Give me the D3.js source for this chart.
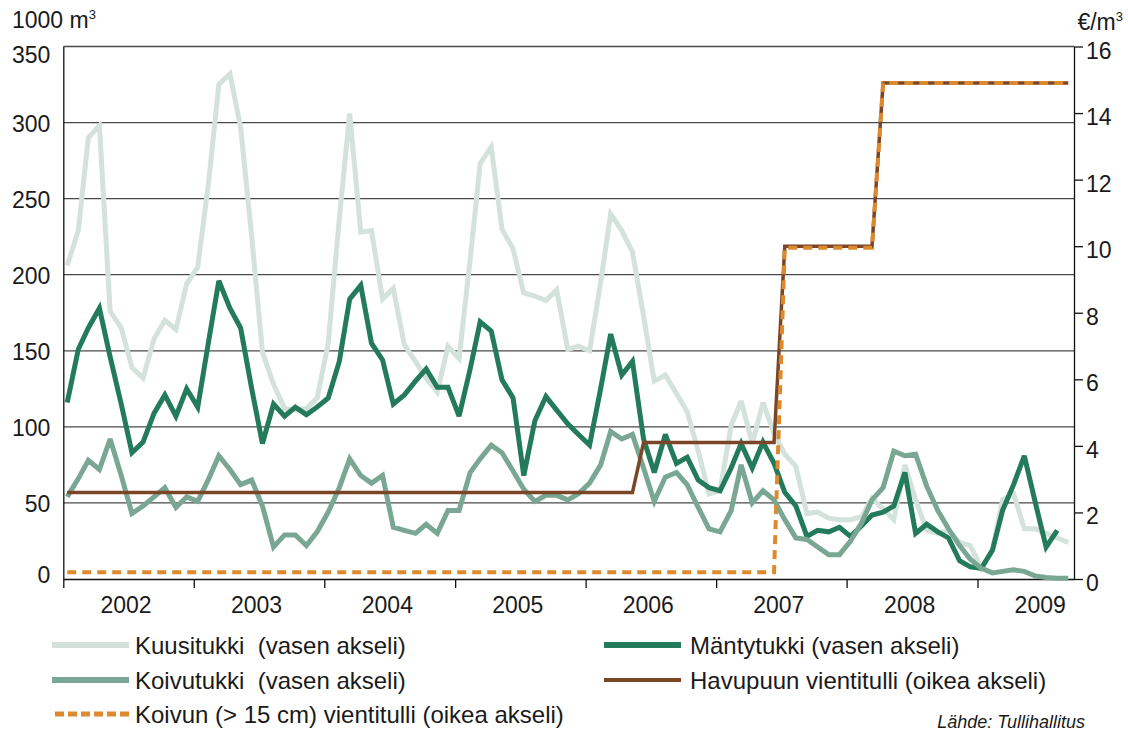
<!DOCTYPE html>
<html>
<head>
<meta charset="utf-8">
<script src="https://cdn.jsdelivr.net/npm/d3@7"></script>
<style>
  body { margin: 0; background: #fff; }
  svg { font-family: "Liberation Sans", Arial, sans-serif; }
</style>
</head>
<body>
<svg id="chart" width="1128" height="731"></svg>
<script>

// monthly series, Jan 2002 ->
let kuusitukki = [206,229,290,298,176,165,139,132,158,170,
    164,194,205,262,325,332,297,225,149,128,
    112,111,112,119,155,237,306,228,229,184,
    191,154,143,132,123,153,145,210,273,284,
    230,217,188,186,183,190,151,153,150,195,
    240,229,215,173,130,134,122,110,84,56,
    58,101,117,89,116,96,82,74,43,44,
    40,39,39,41,53,46,39,75,52,32,
    30,32,24,22,7,19,52,56,33,33,
    30,27,24]

let mantytukki = [116,151,165,178,146,115,83,90,109,121,
    107,125,113,157,196,178,165,125,89,115,
    107,113,108,113,119,143,184,193,155,144,
    115,121,130,138,126,126,107,138,169,163,
    131,119,68,104,120,111,102,95,88,125,
    161,134,143,92,70,95,76,80,65,60,
    58,73,89,73,90,76,57,48,28,32,
    31,34,28,35,42,44,48,70,30,36,
    31,27,12,8,7,19,45,62,81,50,
    21,32]

let koivutukki = [54,66,78,72,92,68,43,48,54,60,
    47,54,51,66,81,72,62,65,48,21,
    29,29,22,31,44,60,79,68,63,68,
    34,32,30,36,30,45,45,70,79,88,
    83,71,59,51,55,55,52,56,63,75,
    97,92,95,73,51,67,70,62,47,33,
    31,45,75,50,58,52,39,27,26,21,
    16,16,25,37,52,60,84,81,82,61,
    45,33,22,13,7,4,5,6,5,2,
    1,0.5,0.5]

// export duties (right axis), given as step corners: month index / value
let havuMonths = [0,52,53,65,66,74,75,92]
let havuTulli  = [2.6,2.6,4.1,4.1,10,10,14.9,14.9]
let koivuMonths = [0,65,66,74,75,92]
let koivuTulli  = [0.2,0.2,9.95,9.95,14.9,14.9]

let years = [2002,2003,2004,2005,2006,2007,2008,2009]
let leftTicks = [0,50,100,150,200,250,300,350]
let rightTicks = [0,2,4,6,8,10,12,14,16]

let legendItems = [
    {name: "Kuusitukki  (vasen akseli)", color: "#d3e2da", width: 6, dash: null, col: 0, row: 0},
    {name: "Mäntytukki (vasen akseli)", color: "#237b5b", width: 6, dash: null, col: 1, row: 0},
    {name: "Koivutukki  (vasen akseli)", color: "#7aa793", width: 6, dash: null, col: 0, row: 1},
    {name: "Havupuun vientitulli (oikea akseli)", color: "#7b4527", width: 4, dash: null, col: 1, row: 1},
    {name: "Koivun (> 15 cm) vientitulli (oikea akseli)", color: "#dc8a2d", width: 5, dash: "9,4", col: 0, row: 2}
]

let textColor = "#1a1a1a"

function drawChart() {
    let svg = d3.select("#chart")

    let left = 63.3, right = 1074, top = 46.5, bottom = 579

    let x = d3.scaleTime()
        .domain([new Date(2002, 0, 1), new Date(2009, 8, 28)])
        .range([left, right])
    let yL = d3.scaleLinear().domain([0, 350]).range([bottom, top])
    let yR = d3.scaleLinear().domain([0, 16]).range([bottom, top])

    let monthDate = i => new Date(2002, i, 12)

    // gridlines
    svg.append("g")
        .selectAll("line")
        .data(leftTicks.filter(d => d > 0))
        .enter()
        .append("line")
        .attr("x1", left).attr("x2", right)
        .attr("y1", d => yL(d)).attr("y2", d => yL(d))
        .style("stroke", "#4a4a4a")
        .style("stroke-width", 1.3)

    // left axis
    let gl = svg.append("g")
        .attr("transform", "translate(" + left + ",0)")
        .call(d3.axisLeft(yL).tickValues(leftTicks).tickSize(0).tickSizeOuter(0).tickPadding(13))
    gl.selectAll("text")
        .attr("font-size", 23).attr("font-family", "Liberation Sans, Arial, sans-serif")
        .style("fill", textColor)
        .attr("dy", d => d == 350 ? "0.7em" : (d == 0 ? "0.15em" : "0.38em"))
    gl.select(".domain").style("stroke", "#111").style("stroke-width", 1.3)

    // right axis
    let gr = svg.append("g")
        .attr("transform", "translate(" + right + ",0)")
        .call(d3.axisRight(yR).tickValues(rightTicks).tickSize(9).tickSizeOuter(0).tickPadding(3))
    gr.selectAll("text")
        .attr("font-size", 23).attr("font-family", "Liberation Sans, Arial, sans-serif")
        .style("fill", textColor)
        .attr("dy", "0.5em")
    gr.selectAll("line").style("stroke", "#111").style("stroke-width", 1.3)
    gr.select(".domain").style("stroke", "#111").style("stroke-width", 1.3)

    // bottom axis: year boundaries as ticks, labels at mid-year
    let gb = svg.append("g")
        .attr("transform", "translate(0," + bottom + ")")
        .call(d3.axisBottom(x)
            .tickValues(years.map(y => new Date(y, 0, 1)))
            .tickFormat("")
            .tickSize(9)
            .tickSizeOuter(0))
    gb.selectAll("line").style("stroke", "#111").style("stroke-width", 1.3)
    gb.select(".domain").style("stroke", "#111").style("stroke-width", 1.3)

    svg.append("g")
        .selectAll("text")
        .data(years)
        .enter()
        .append("text")
        .attr("x", d => x(new Date(d, 6, 1)) - 2)
        .attr("y", 613)
        .attr("text-anchor", "middle")
        .attr("font-size", 23)
        .style("fill", textColor)
        .text(d => d)

    // axis units
    let t1 = svg.append("text")
        .attr("x", 12).attr("y", 28)
        .attr("font-size", 23)
        .style("fill", textColor)
    t1.append("tspan").text("1000 m")
    t1.append("tspan").attr("font-size", 13).attr("dy", -9).text("3")

    let t2 = svg.append("text")
        .attr("x", 1123).attr("y", 30)
        .attr("text-anchor", "end")
        .attr("font-size", 23)
        .style("fill", textColor)
    t2.append("tspan").text("€/m")
    t2.append("tspan").attr("font-size", 13).attr("dy", -9).text("3")

    // series
    let lineL = d3.line()
        .x((d, i) => x(monthDate(i)))
        .y(d => yL(d))

    let lineR = d3.line()
        .x(d => x(monthDate(d[0])))
        .y(d => yR(d[1]))

    let series = [
        {data: kuusitukki, color: "#d3e2da", width: 5},
        {data: mantytukki, color: "#237b5b", width: 5},
        {data: koivutukki, color: "#7aa793", width: 5}
    ]

    svg.append("g")
        .selectAll("path")
        .data(series)
        .enter()
        .append("path")
        .attr("d", d => lineL(d.data))
        .style("fill", "none")
        .style("stroke", d => d.color)
        .style("stroke-width", d => d.width)
        .style("stroke-linejoin", "miter")
        .style("stroke-miterlimit", 3)

    svg.append("path")
        .attr("d", lineR(havuMonths.map((m, i) => [m, havuTulli[i]])))
        .style("fill", "none")
        .style("stroke", "#7b4527")
        .style("stroke-width", 3.5)

    svg.append("path")
        .attr("d", lineR(koivuMonths.map((m, i) => [m, koivuTulli[i]])))
        .style("fill", "none")
        .style("stroke", "#dc8a2d")
        .style("stroke-width", 4)
        .style("stroke-dasharray", "9,6")

    // legend
    let colX = [52, 604], textX = [135, 690], rowY = [645, 680, 714]
    let lg = svg.append("g")
    let items = lg.selectAll("g")
        .data(legendItems)
        .enter()
        .append("g")

    items.append("line")
        .attr("x1", d => colX[d.col] + (d.dash ? 3 : 0))
        .attr("x2", d => colX[d.col] + 77)
        .attr("y1", d => rowY[d.row]).attr("y2", d => rowY[d.row])
        .style("stroke", d => d.color)
        .style("stroke-width", d => d.width)
        .style("stroke-dasharray", d => d.dash)

    items.append("text")
        .attr("x", d => textX[d.col])
        .attr("y", d => rowY[d.row] + 8.5)
        .attr("font-size", 24)
        .style("white-space", "pre")
        .style("fill", textColor)
        .text(d => d.name)

    svg.append("text")
        .attr("x", 1085).attr("y", 728)
        .attr("text-anchor", "end")
        .attr("font-size", 18)
        .attr("font-style", "italic")
        .style("fill", textColor)
        .text("Lähde: Tullihallitus")
}

drawChart()
</script>
</body>
</html>
